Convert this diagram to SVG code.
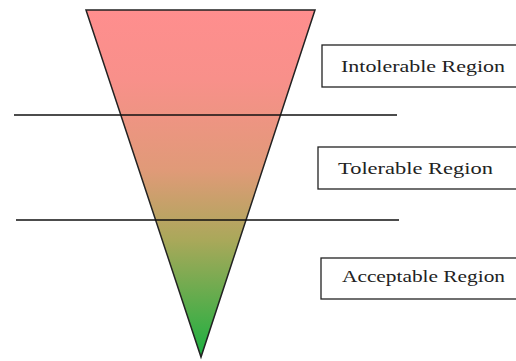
<svg xmlns="http://www.w3.org/2000/svg" width="516" height="361" viewBox="0 0 516 361">
<style>
.box{fill:#fff;stroke:#222;stroke-width:1.3}
.lbl{font-family:"Liberation Serif","DejaVu Serif",serif;font-size:17px;fill:#222}
.ln{stroke:#111;stroke-width:1.3}
</style>
<defs>
<linearGradient id="g" x1="0" y1="10" x2="0" y2="358" gradientUnits="userSpaceOnUse">
<stop offset="0" stop-color="#FF8E8E"/>
<stop offset="0.2" stop-color="#F8908A"/>
<stop offset="0.46" stop-color="#E09A78"/>
<stop offset="0.66" stop-color="#AAA85A"/>
<stop offset="1" stop-color="#1AB040"/>
</linearGradient>
</defs>
<rect width="516" height="361" fill="#fff"/>
<g id="funnel">
<polygon points="86,10 315,10 201,357" fill="url(#g)" stroke="#222" stroke-width="1.5" stroke-linejoin="miter"/>
</g>
<g id="connectors">
<line class="ln" x1="14" y1="115" x2="397" y2="115"/>
<line class="ln" x1="16" y1="220" x2="399" y2="220"/>
</g>
<g id="intolerable">
<rect class="box" x="322" y="45" width="200" height="42"/>
<text class="lbl" x="341" y="72" textLength="164" lengthAdjust="spacingAndGlyphs">Intolerable Region</text>
</g>
<g id="tolerable">
<rect class="box" x="318" y="147" width="204" height="42"/>
<text class="lbl" x="338" y="174" textLength="155" lengthAdjust="spacingAndGlyphs">Tolerable Region</text>
</g>
<g id="acceptable">
<rect class="box" x="321" y="258" width="201" height="41"/>
<text class="lbl" x="342" y="282" textLength="163" lengthAdjust="spacingAndGlyphs">Acceptable Region</text>
</g>
</svg>
